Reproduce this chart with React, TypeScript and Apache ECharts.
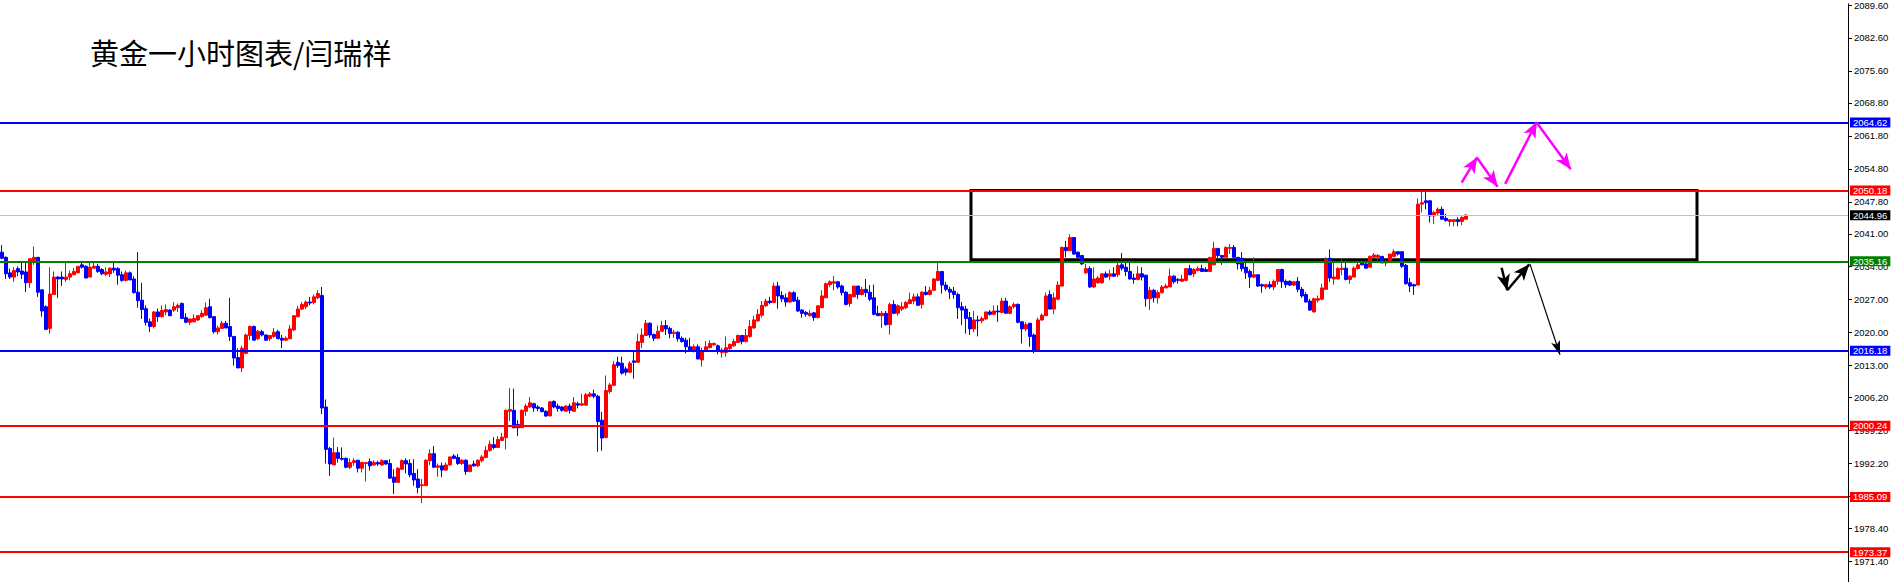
import React, { useEffect, useRef } from 'react';
import * as echarts from 'echarts';

// Hourly gold candles: [open, close, low, high]
const candles: number[][] = [
  [2037.1, 2035.8, 2035.6, 2038.6], [2036.0, 2032.5, 2031.4, 2036.2], [2032.7, 2031.8, 2031.4, 2033.6], [2031.8, 2033.2, 2030.8, 2033.9],
  [2033.6, 2032.9, 2032.0, 2034.1], [2033.1, 2032.4, 2031.4, 2035.0], [2032.9, 2030.6, 2028.6, 2035.0], [2030.6, 2035.7, 2029.5, 2035.8],
  [2035.3, 2036.0, 2034.4, 2038.3], [2036.0, 2028.6, 2027.6, 2036.0], [2029.1, 2024.6, 2023.4, 2029.1], [2025.5, 2020.7, 2020.7, 2025.8],
  [2020.9, 2028.2, 2019.8, 2033.9], [2028.1, 2031.8, 2028.1, 2033.0], [2031.8, 2031.4, 2027.4, 2032.0], [2031.8, 2031.4, 2029.9, 2033.0],
  [2031.3, 2031.8, 2030.8, 2035.0], [2031.8, 2032.5, 2031.1, 2033.2], [2032.3, 2033.0, 2032.3, 2033.7], [2032.7, 2034.1, 2032.7, 2034.1],
  [2034.4, 2033.9, 2033.6, 2034.8], [2034.1, 2031.6, 2031.6, 2034.3], [2031.8, 2033.9, 2031.8, 2035.0], [2033.7, 2034.1, 2033.6, 2035.1],
  [2034.1, 2033.0, 2032.7, 2034.6], [2033.4, 2032.5, 2032.2, 2033.7], [2032.4, 2032.9, 2032.0, 2033.9], [2032.5, 2033.7, 2031.8, 2033.9],
  [2033.7, 2033.3, 2032.7, 2034.8], [2033.6, 2032.2, 2030.2, 2033.9], [2032.3, 2031.1, 2030.8, 2033.0], [2031.1, 2032.7, 2030.9, 2033.2],
  [2032.7, 2031.2, 2031.2, 2033.0], [2031.4, 2028.5, 2028.3, 2032.0], [2028.6, 2026.8, 2025.3, 2037.1], [2026.9, 2024.9, 2022.9, 2030.6],
  [2025.1, 2022.2, 2021.5, 2025.8], [2022.3, 2021.3, 2020.1, 2023.0], [2021.3, 2024.4, 2020.9, 2024.6], [2024.4, 2023.4, 2022.3, 2025.1],
  [2023.4, 2024.7, 2023.2, 2025.8], [2024.4, 2024.9, 2023.7, 2026.0], [2024.8, 2023.6, 2023.5, 2025.0], [2024.8, 2025.5, 2024.4, 2026.5],
  [2025.3, 2025.8, 2024.4, 2026.2], [2026.2, 2023.0, 2023.0, 2026.4], [2023.2, 2022.2, 2022.0, 2024.1], [2022.2, 2022.9, 2021.6, 2023.0],
  [2022.3, 2023.0, 2022.2, 2023.9], [2022.7, 2023.6, 2022.5, 2023.7], [2023.4, 2024.1, 2023.2, 2024.8], [2023.7, 2025.3, 2023.6, 2026.4],
  [2025.5, 2023.2, 2023.0, 2027.2], [2023.4, 2020.2, 2019.8, 2023.4], [2020.2, 2021.0, 2019.6, 2021.5], [2020.9, 2022.0, 2020.9, 2022.5],
  [2022.0, 2021.0, 2020.9, 2022.5], [2021.3, 2019.2, 2018.2, 2027.4], [2019.2, 2014.6, 2013.0, 2019.2], [2014.7, 2012.5, 2012.5, 2016.7],
  [2012.5, 2016.7, 2011.6, 2017.2], [2015.6, 2019.5, 2015.4, 2019.8], [2019.4, 2021.3, 2018.4, 2021.5], [2021.3, 2018.4, 2018.4, 2021.5],
  [2018.7, 2020.3, 2018.4, 2020.6], [2020.2, 2019.5, 2019.2, 2020.6], [2019.5, 2018.4, 2018.2, 2019.6], [2018.7, 2019.4, 2018.2, 2019.5],
  [2019.2, 2020.1, 2018.9, 2021.0], [2020.2, 2018.7, 2018.7, 2020.6], [2018.8, 2018.4, 2016.7, 2019.5], [2018.4, 2018.8, 2018.2, 2019.2],
  [2018.7, 2020.8, 2018.7, 2021.6], [2020.6, 2023.6, 2020.3, 2023.7], [2023.4, 2025.0, 2023.2, 2025.7], [2025.0, 2026.0, 2024.8, 2026.5],
  [2025.5, 2026.5, 2025.0, 2026.8], [2026.5, 2026.3, 2025.8, 2027.6], [2026.4, 2027.6, 2026.0, 2028.1], [2027.4, 2028.3, 2027.1, 2029.0],
  [2027.9, 2004.0, 2002.7, 2029.7], [2004.2, 1995.2, 1992.2, 2005.8], [1995.4, 1992.1, 1989.6, 1995.7], [1991.9, 1994.5, 1991.9, 1997.7],
  [1994.5, 1993.3, 1992.4, 1995.7], [1993.3, 1993.1, 1992.8, 1995.6], [1993.3, 1991.4, 1991.2, 1993.5], [1991.4, 1992.4, 1991.0, 1993.3],
  [1992.4, 1992.8, 1991.7, 1993.3], [1992.9, 1991.2, 1990.3, 1992.9], [1991.2, 1992.4, 1990.3, 1992.6], [1992.2, 1992.4, 1988.4, 1992.4],
  [1992.6, 1991.7, 1990.7, 1993.3], [1991.9, 1992.4, 1991.7, 1992.9], [1992.4, 1992.1, 1991.7, 1992.8], [1991.9, 1992.8, 1991.7, 1993.1],
  [1992.8, 1992.1, 1991.9, 1992.9], [1992.2, 1989.1, 1988.9, 1993.1], [1989.3, 1988.2, 1985.7, 1991.0], [1988.2, 1991.2, 1988.2, 1991.4],
  [1991.0, 1992.8, 1990.8, 1993.1], [1992.8, 1992.1, 1990.1, 1993.3], [1992.2, 1989.8, 1989.3, 1993.1], [1990.1, 1988.7, 1987.5, 1993.1],
  [1988.9, 1987.1, 1985.9, 1991.0], [1987.5, 1987.7, 1983.8, 1988.9], [1987.5, 1992.9, 1987.5, 1993.1], [1992.8, 1994.3, 1991.9, 1995.2],
  [1994.3, 1991.4, 1991.4, 1995.9], [1991.4, 1991.7, 1989.4, 1992.2], [1991.7, 1990.8, 1989.3, 1992.4], [1990.8, 1991.9, 1990.7, 1992.4],
  [1991.9, 1993.6, 1991.7, 1993.6], [1993.8, 1993.3, 1993.1, 1994.2], [1993.5, 1992.2, 1991.9, 1994.2], [1992.2, 1992.9, 1991.9, 1993.1],
  [1992.9, 1990.5, 1989.8, 1993.1], [1990.5, 1991.9, 1990.3, 1991.9], [1992.1, 1991.7, 1991.5, 1992.8], [1991.7, 1992.9, 1991.5, 1993.1],
  [1992.8, 1993.6, 1992.4, 1994.0], [1993.5, 1995.0, 1993.3, 1995.9], [1995.0, 1996.3, 1994.7, 1997.1], [1996.2, 1995.6, 1995.2, 1997.8],
  [1995.6, 1997.3, 1995.5, 1998.0], [1997.1, 1997.8, 1997.1, 1998.7], [1997.7, 2003.5, 1995.2, 2003.7], [2003.3, 2003.7, 2001.2, 2008.2],
  [2003.5, 1999.8, 1999.7, 2008.1], [2000.5, 1999.8, 1998.0, 2001.4], [1999.8, 2003.5, 1999.8, 2003.7], [2003.3, 2004.4, 2002.3, 2004.9],
  [2004.2, 2005.1, 2004.0, 2006.3], [2004.9, 2004.0, 2003.2, 2005.1], [2004.2, 2003.9, 2003.3, 2004.6], [2004.0, 2003.2, 2003.2, 2004.2],
  [2003.3, 2002.3, 2002.1, 2003.5], [2002.3, 2005.3, 2002.3, 2005.4], [2005.4, 2004.2, 2003.9, 2005.6], [2004.4, 2003.9, 2003.2, 2004.9],
  [2004.2, 2003.5, 2003.2, 2004.4], [2003.3, 2004.4, 2003.3, 2004.6], [2004.4, 2003.5, 2002.8, 2004.9], [2003.3, 2005.1, 2003.2, 2006.3],
  [2004.9, 2004.6, 2003.9, 2005.3], [2004.6, 2004.9, 2004.4, 2007.0], [2004.6, 2006.8, 2004.4, 2007.2], [2006.5, 2007.0, 2006.3, 2007.4],
  [2007.0, 2006.5, 2006.1, 2007.9], [2006.5, 2001.1, 1994.7, 2006.8], [2001.4, 1997.6, 1994.9, 2003.2], [1997.7, 2007.7, 1997.7, 2010.9],
  [2007.5, 2008.9, 2007.0, 2009.3], [2008.8, 2013.2, 2008.8, 2014.0], [2013.7, 2013.0, 2012.5, 2014.9], [2013.5, 2011.4, 2011.1, 2014.9],
  [2012.3, 2011.6, 2010.9, 2012.8], [2011.6, 2013.5, 2011.4, 2013.9], [2014.0, 2013.7, 2010.2, 2016.1], [2013.7, 2018.1, 2013.7, 2019.8],
  [2017.9, 2019.5, 2016.7, 2020.9], [2019.4, 2022.0, 2019.4, 2022.7], [2022.0, 2019.5, 2018.9, 2022.2], [2019.6, 2018.8, 2018.2, 2019.8],
  [2018.8, 2020.3, 2018.7, 2021.5], [2020.3, 2021.5, 2020.2, 2022.5], [2021.5, 2020.8, 2019.5, 2022.7], [2020.9, 2019.8, 2018.8, 2021.3],
  [2019.8, 2020.1, 2018.9, 2020.6], [2020.1, 2018.7, 2018.1, 2020.3], [2018.8, 2018.1, 2017.9, 2019.2], [2018.4, 2017.0, 2015.6, 2018.9],
  [2017.0, 2016.3, 2016.0, 2018.9], [2016.3, 2017.0, 2015.8, 2017.5], [2017.0, 2014.4, 2014.4, 2017.5], [2014.2, 2016.0, 2012.8, 2016.8],
  [2016.1, 2017.0, 2016.0, 2018.2], [2016.8, 2017.7, 2016.7, 2018.4], [2017.4, 2017.7, 2017.2, 2017.9], [2017.2, 2016.0, 2015.4, 2017.5],
  [2015.8, 2016.3, 2014.7, 2016.8], [2015.8, 2016.8, 2014.9, 2019.2], [2016.6, 2017.5, 2016.3, 2017.7], [2017.2, 2018.1, 2017.0, 2018.7],
  [2017.9, 2019.4, 2017.9, 2019.6], [2019.4, 2018.1, 2017.5, 2019.4], [2018.1, 2019.4, 2017.9, 2020.8], [2019.2, 2021.3, 2018.9, 2022.7],
  [2021.0, 2022.7, 2020.8, 2023.6], [2022.5, 2023.9, 2022.3, 2025.0], [2023.7, 2025.8, 2023.2, 2026.7], [2025.7, 2026.7, 2025.5, 2027.2],
  [2026.7, 2026.4, 2026.0, 2027.6], [2026.4, 2029.9, 2026.4, 2030.6], [2029.9, 2027.8, 2025.1, 2030.8], [2027.9, 2027.2, 2026.5, 2028.8],
  [2027.4, 2026.5, 2025.5, 2028.3], [2026.5, 2028.5, 2026.4, 2028.8], [2028.5, 2026.7, 2026.5, 2028.8], [2026.9, 2024.6, 2024.4, 2027.6],
  [2024.8, 2024.1, 2023.2, 2025.0], [2024.3, 2023.9, 2023.4, 2024.6], [2023.6, 2024.1, 2023.4, 2024.8], [2024.2, 2023.2, 2022.5, 2024.4],
  [2023.2, 2025.7, 2023.0, 2025.8], [2025.3, 2027.8, 2025.3, 2029.0], [2027.4, 2030.4, 2027.4, 2030.6], [2030.2, 2030.8, 2029.7, 2031.1],
  [2030.5, 2030.8, 2029.0, 2032.0], [2030.8, 2029.7, 2029.3, 2030.9], [2029.9, 2028.5, 2027.9, 2030.2], [2028.6, 2026.0, 2025.8, 2028.8],
  [2026.2, 2028.1, 2025.5, 2028.3], [2027.6, 2029.9, 2027.6, 2029.9], [2029.9, 2028.1, 2027.1, 2029.9], [2028.1, 2029.2, 2027.9, 2029.7],
  [2029.2, 2028.5, 2027.6, 2031.4], [2028.6, 2027.1, 2026.7, 2030.1], [2027.4, 2023.9, 2023.7, 2030.2], [2024.1, 2023.6, 2023.6, 2025.7],
  [2023.6, 2024.1, 2021.0, 2024.6], [2024.1, 2021.7, 2021.5, 2024.6], [2021.7, 2026.0, 2019.6, 2026.4], [2026.0, 2024.1, 2023.9, 2026.9],
  [2024.1, 2025.7, 2023.6, 2026.0], [2025.0, 2025.5, 2024.6, 2026.5], [2025.3, 2026.4, 2025.0, 2026.7], [2026.2, 2027.0, 2026.0, 2028.5],
  [2026.7, 2027.6, 2026.0, 2028.3], [2027.6, 2025.8, 2025.8, 2028.3], [2026.0, 2028.6, 2025.1, 2028.8], [2028.6, 2028.1, 2027.9, 2029.9],
  [2028.1, 2029.0, 2027.9, 2029.7], [2029.0, 2031.4, 2028.8, 2031.6], [2031.1, 2033.0, 2030.9, 2034.8], [2033.0, 2030.1, 2028.3, 2033.0],
  [2030.1, 2029.2, 2028.8, 2030.8], [2029.2, 2028.6, 2027.1, 2029.7], [2028.8, 2028.1, 2027.2, 2029.7], [2028.1, 2025.3, 2022.9, 2028.5],
  [2025.5, 2024.8, 2021.6, 2026.5], [2025.0, 2023.0, 2019.8, 2025.7], [2023.2, 2020.8, 2019.5, 2024.4], [2020.8, 2022.7, 2020.1, 2024.6],
  [2022.7, 2022.5, 2019.2, 2023.6], [2022.5, 2023.0, 2022.0, 2023.4], [2022.9, 2024.4, 2022.7, 2024.4], [2024.4, 2023.9, 2023.6, 2024.8],
  [2023.9, 2024.6, 2023.7, 2025.8], [2024.6, 2024.4, 2022.3, 2025.8], [2024.3, 2026.7, 2024.1, 2027.4], [2026.7, 2024.1, 2024.1, 2027.4],
  [2024.1, 2025.5, 2023.9, 2025.8], [2025.5, 2026.0, 2025.1, 2026.4], [2026.0, 2022.2, 2022.0, 2026.2], [2022.3, 2020.8, 2017.7, 2022.5],
  [2020.8, 2021.7, 2020.3, 2022.2], [2022.0, 2019.2, 2017.0, 2022.0], [2019.5, 2016.1, 2015.6, 2019.8], [2016.3, 2022.7, 2016.3, 2023.2],
  [2022.7, 2023.7, 2022.5, 2024.1], [2023.6, 2027.8, 2023.6, 2028.5], [2028.1, 2025.0, 2025.0, 2029.0], [2025.0, 2027.4, 2023.9, 2028.5],
  [2027.1, 2030.1, 2026.9, 2030.9], [2029.9, 2038.1, 2029.9, 2038.3], [2038.1, 2037.4, 2036.0, 2039.5], [2037.4, 2040.2, 2037.4, 2040.9],
  [2040.2, 2036.7, 2036.5, 2040.2], [2037.1, 2036.0, 2035.8, 2037.2], [2036.4, 2034.6, 2034.4, 2036.4], [2032.7, 2033.6, 2032.5, 2034.6],
  [2033.6, 2029.7, 2029.5, 2034.1], [2029.7, 2031.4, 2029.5, 2033.9], [2030.6, 2031.6, 2030.4, 2032.0], [2030.6, 2032.5, 2030.4, 2032.5],
  [2032.5, 2031.8, 2031.6, 2033.0], [2032.0, 2032.5, 2031.1, 2033.4], [2032.5, 2032.0, 2031.8, 2033.9], [2032.3, 2034.3, 2031.8, 2035.3],
  [2034.4, 2033.7, 2033.2, 2036.9], [2033.9, 2033.0, 2032.0, 2035.1], [2033.0, 2031.4, 2031.3, 2035.1], [2031.6, 2031.3, 2030.4, 2032.5],
  [2031.3, 2032.5, 2031.1, 2034.1], [2032.5, 2031.8, 2031.1, 2033.9], [2032.2, 2027.2, 2025.5, 2032.3], [2027.2, 2029.0, 2024.8, 2029.7],
  [2029.0, 2027.4, 2026.4, 2029.3], [2027.4, 2028.5, 2026.2, 2029.0], [2028.5, 2029.7, 2028.3, 2030.1], [2029.5, 2029.9, 2029.5, 2030.4],
  [2029.7, 2032.0, 2029.7, 2033.6], [2032.0, 2030.8, 2030.4, 2032.2], [2031.3, 2031.1, 2030.4, 2031.6], [2030.9, 2031.4, 2030.8, 2032.3],
  [2031.1, 2033.6, 2030.9, 2033.7], [2033.6, 2032.3, 2032.2, 2034.4], [2032.5, 2033.4, 2031.8, 2033.7], [2033.2, 2033.6, 2033.0, 2034.1],
  [2033.6, 2033.0, 2032.9, 2034.4], [2033.4, 2033.0, 2032.9, 2033.9], [2033.0, 2036.0, 2032.9, 2036.0], [2034.4, 2037.9, 2034.4, 2039.3],
  [2037.9, 2036.4, 2035.5, 2037.9], [2036.4, 2036.0, 2034.4, 2036.4], [2036.0, 2038.1, 2036.0, 2038.3], [2037.9, 2038.1, 2036.7, 2038.8],
  [2038.1, 2036.0, 2034.8, 2038.6], [2036.0, 2034.6, 2033.4, 2036.0], [2035.8, 2033.6, 2033.0, 2037.1], [2033.9, 2032.7, 2031.4, 2035.0],
  [2033.0, 2031.8, 2029.5, 2033.4], [2031.8, 2032.3, 2031.6, 2036.0], [2032.3, 2029.9, 2029.7, 2032.3], [2030.2, 2029.9, 2028.5, 2030.4],
  [2029.7, 2030.2, 2029.2, 2030.4], [2030.2, 2029.7, 2029.3, 2030.9], [2029.7, 2030.9, 2029.0, 2031.3], [2030.9, 2033.4, 2030.2, 2033.4],
  [2033.4, 2030.8, 2029.5, 2033.6], [2030.9, 2030.2, 2029.5, 2031.3], [2030.9, 2030.1, 2029.9, 2031.1], [2030.1, 2030.8, 2029.9, 2030.9],
  [2030.9, 2029.2, 2028.6, 2031.8], [2029.2, 2027.8, 2027.4, 2029.7], [2028.1, 2026.5, 2026.4, 2028.6], [2026.7, 2024.8, 2024.6, 2027.2],
  [2024.4, 2027.2, 2024.3, 2027.4], [2026.9, 2027.2, 2026.4, 2027.9], [2027.1, 2029.5, 2026.9, 2030.4], [2029.2, 2035.5, 2029.2, 2036.0],
  [2035.8, 2031.6, 2030.8, 2037.7], [2031.4, 2031.8, 2030.2, 2035.0], [2031.4, 2033.6, 2031.3, 2033.9], [2033.4, 2033.7, 2032.2, 2035.8],
  [2033.7, 2031.3, 2031.1, 2035.3], [2031.3, 2032.0, 2030.4, 2032.2], [2031.8, 2033.7, 2031.8, 2034.1], [2033.6, 2034.4, 2033.4, 2035.1],
  [2034.8, 2034.4, 2034.3, 2035.5], [2034.6, 2033.7, 2033.6, 2035.0], [2033.9, 2036.2, 2033.9, 2036.4], [2036.0, 2036.5, 2035.8, 2036.9],
  [2036.0, 2036.4, 2034.8, 2036.7], [2036.2, 2034.8, 2034.8, 2036.2], [2034.8, 2035.1, 2034.1, 2035.5], [2035.3, 2036.7, 2035.1, 2036.7],
  [2036.2, 2037.2, 2036.0, 2037.7], [2037.2, 2036.7, 2036.4, 2037.2], [2037.2, 2034.1, 2033.7, 2037.2], [2034.3, 2030.4, 2030.2, 2034.6],
  [2030.6, 2029.9, 2028.6, 2031.6], [2030.2, 2029.9, 2028.0, 2030.4], [2030.1, 2047.3, 2030.1, 2048.5], [2047.3, 2047.6, 2045.5, 2050.1],
  [2048.0, 2047.6, 2046.2, 2050.1], [2048.0, 2044.8, 2043.4, 2048.2], [2044.8, 2045.5, 2043.1, 2045.9], [2045.4, 2046.2, 2045.0, 2046.6],
  [2046.2, 2044.1, 2044.0, 2046.8], [2044.3, 2043.8, 2043.6, 2045.2], [2043.6, 2044.0, 2042.6, 2044.0], [2043.6, 2044.0, 2042.6, 2044.0],
  [2044.0, 2043.6, 2042.6, 2044.5], [2043.6, 2044.5, 2042.8, 2044.7], [2044.1, 2044.96, 2044.0, 2045.2],
];

// Bar slots on the chart (data plus the empty right-hand shift area)
const SLOT_COUNT = 462;
const categories: string[] = Array.from({ length: SLOT_COUNT }, (_, i) => 'H' + i);

// Price scale of the chart window
const PRICE_MIN = 1967.03;
const PRICE_MAX = 2089.83;
const tickValues = [2089.6, 2082.6, 2075.6, 2068.8, 2061.8, 2054.8, 2047.8, 2041.0, 2034.0, 2027.0, 2020.0, 2013.0, 2006.2, 1999.2, 1992.2, 1985.3, 1978.4, 1971.4];

// Horizontal levels
const levelValues = [2064.62, 2050.18, 2044.96, 2035.16, 2016.18, 2000.24, 1985.09, 1973.37];
const levelColors = ['#0000ff', '#ff0000', '#c0c0c0', '#008000', '#0000ff', '#ff0000', '#ff0000', '#ff0000'];
const levelLabelBg = ['#0000ff', '#ff0000', '#000000', '#008000', '#0000ff', '#ff0000', '#ff0000', '#ff0000'];
const levelWidths = [2, 2, 1, 2, 2, 2, 2, 2];

// Consolidation box: [barFrom, priceTop], [barTo, priceBottom]
const boxCorners = [[242.25, 2050.18], [423.75, 2035.5]];

// Drawn arrows: [[barFrom, priceFrom], [barTo, priceTo]]
const magentaArrows = [
  [[364.9, 2051.85], [368.8, 2057.27]],
  [[368.8, 2057.1], [373.9, 2051.0]],
  [[375.8, 2051.6], [383.7, 2064.8]],
  [[383.8, 2064.5], [392.2, 2054.7]],
];
const blackArrows = [
  [[374.9, 2033.77], [376.3, 2029.0]],
  [[376.3, 2029.0], [381.8, 2034.5]],
];
const blackThinArrows = [
  [[382.0, 2034.55], [389.5, 2015.3]],
];

const TITLE = '黄金一小时图表/闫瑞祥';

const arrowData = (arr: number[][][]) => arr.map((a) => [{ coord: a[0] }, { coord: a[1] }]);

export default function App() {
  const ref = useRef<HTMLDivElement>(null);
  useEffect(() => {
    document.body.style.margin = '0';
    if (!ref.current) return;
    const chart = echarts.init(ref.current, null, { renderer: 'svg' });
    const labelFont = 'Liberation Sans';
    const option: any = {
      animation: false,
      backgroundColor: '#ffffff',
      grid: { left: 0, right: 46, top: 0, bottom: 0, containLabel: false },
      graphic: [
        {
          type: 'text',
          left: 90,
          top: 37,
          style: { text: TITLE, fontSize: 29, fontFamily: 'Noto Sans CJK SC', fill: '#000' },
        },
      ],
      xAxis: [
        { type: 'category', data: categories, show: false, boundaryGap: true },
        { type: 'value', min: -0.5, max: SLOT_COUNT - 0.5, show: false },
      ],
      yAxis: {
        type: 'value',
        position: 'right',
        min: PRICE_MIN,
        max: PRICE_MAX,
        scale: true,
        splitLine: { show: false },
        axisLine: { show: true, onZero: false, lineStyle: { color: '#000', width: 1 } },
        axisTick: { show: true, inside: false, length: 4, customValues: tickValues, lineStyle: { color: '#000' } },
        axisLabel: {
          customValues: tickValues,
          formatter: (v: number) => v.toFixed(2),
          margin: 6,
          fontSize: 9.5,
          fontFamily: labelFont,
          color: '#000',
        },
      },
      series: [
        {
          type: 'candlestick',
          xAxisIndex: 0,
          yAxisIndex: 0,
          data: candles,
          barWidth: 3,
          silent: true,
          itemStyle: {
            color: '#ff0000',
            color0: '#0000ff',
            borderColor: '#ff0000',
            borderColor0: '#0000ff',
            borderWidth: 1,
          },
          markLine: {
            silent: true,
            symbol: ['none', 'none'],
            data: levelValues.map((v, i) => ({
              yAxis: v,
              lineStyle: { color: levelColors[i], width: levelWidths[i], type: 'solid' },
              label: {
                show: true,
                position: 'end',
                distance: 2,
                formatter: v.toFixed(2),
                backgroundColor: levelLabelBg[i],
                color: '#ffffff',
                fontSize: 9.5,
                fontFamily: labelFont,
                lineHeight: 10,
                padding: [0, 3, 0, 3],
              },
            })),
          },
        },
        {
          type: 'line',
          xAxisIndex: 1,
          yAxisIndex: 0,
          data: [],
          silent: true,
          markArea: {
            silent: true,
            itemStyle: { color: 'rgba(0,0,0,0)', borderColor: '#000', borderWidth: 3 },
            data: [[{ coord: boxCorners[0] }, { coord: boxCorners[1] }]],
          },
          markLine: {
            silent: true,
            symbol: ['none', 'arrow'],
            symbolSize: [10, 16],
            label: { show: false },
            lineStyle: { color: '#ff00ff', width: 2.5, type: 'solid' },
            data: arrowData(magentaArrows),
          },
        },
        {
          type: 'line',
          xAxisIndex: 1,
          yAxisIndex: 0,
          data: [],
          silent: true,
          markLine: {
            silent: true,
            symbol: ['none', 'arrow'],
            symbolSize: [10, 16],
            label: { show: false },
            lineStyle: { color: '#000000', width: 2.5, type: 'solid' },
            data: arrowData(blackArrows),
          },
        },
        {
          type: 'line',
          xAxisIndex: 1,
          yAxisIndex: 0,
          data: [],
          silent: true,
          markLine: {
            silent: true,
            symbol: ['none', 'arrow'],
            symbolSize: [7, 14],
            label: { show: false },
            lineStyle: { color: '#000000', width: 1.2, type: 'solid' },
            data: arrowData(blackThinArrows),
          },
        },
      ],
    };
    chart.setOption(option);
    return () => chart.dispose();
  }, []);
  return <div ref={ref} style={{ width: 1894, height: 582 }} />;
}
